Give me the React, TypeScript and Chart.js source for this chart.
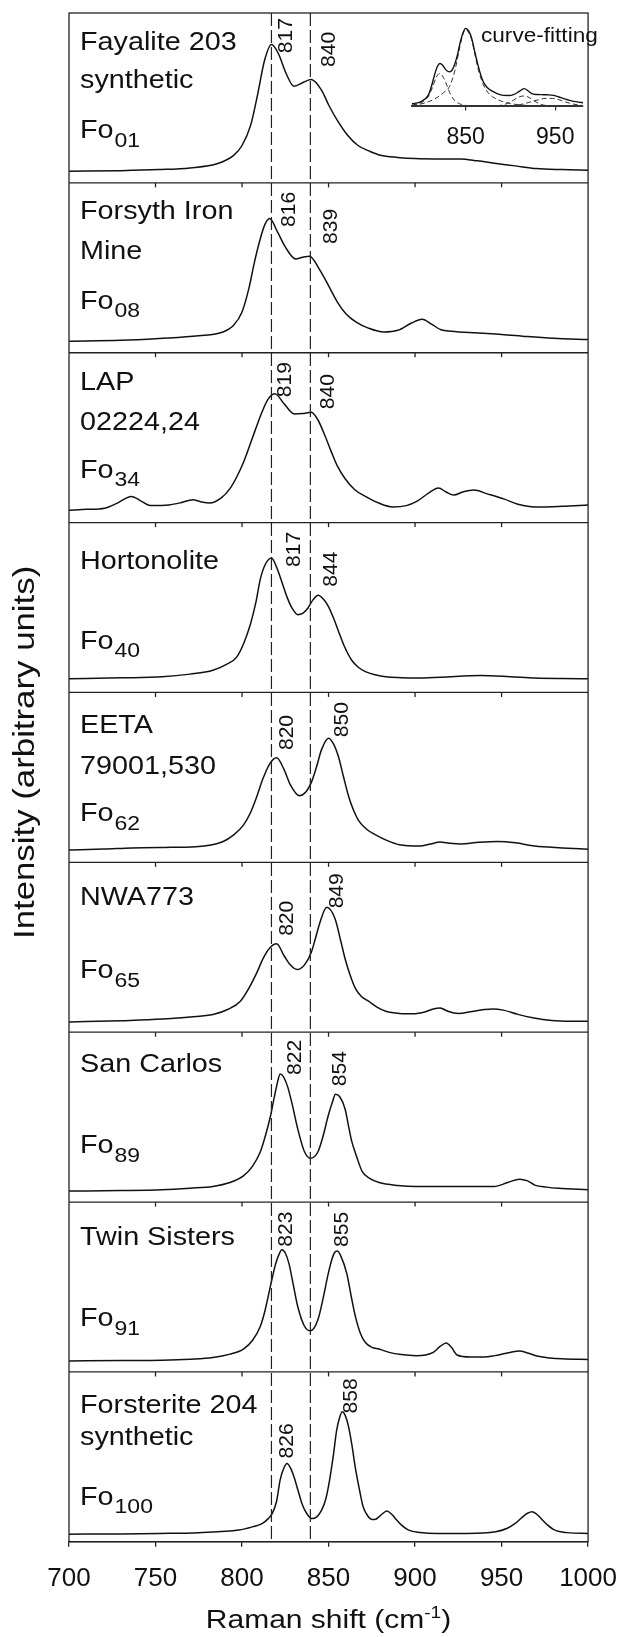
import { useEffect, useRef } from "react";
import { Chart, registerables } from "chart.js";

Chart.register(...registerables);

const FONT = '"Liberation Sans", Arial, Helvetica, sans-serif';
const INK = "#111";
const FRAME = "#222";

// Raman shift axis (cm-1)
const SHIFT_MIN = 700;
const SHIFT_MAX = 1000;
const SHIFT_TICKS = [700, 750, 800, 850, 900, 950, 1000];
// Dashed reference positions drawn through every panel
const GUIDE_SHIFTS = [817, 839.5];

// Panels, top to bottom
const SAMPLE_LINES = [
  ["Fayalite 203", "synthetic"],
  ["Forsyth Iron", "Mine"],
  ["LAP", "02224,24"],
  ["Hortonolite"],
  ["EETA", "79001,530"],
  ["NWA773"],
  ["San Carlos"],
  ["Twin Sisters"],
  ["Forsterite 204", "synthetic"],
];
const FO_CONTENT = ["01", "08", "34", "40", "62", "65", "89", "91", "100"];
const PEAK_SHIFTS = [
  [817, 840],
  [816, 839],
  [819, 840],
  [817, 844],
  [820, 850],
  [820, 849],
  [822, 854],
  [823, 855],
  [826, 858],
];

// Spectra: Raman shift and intensity (0–100 within each panel)
const FAYALITE_SHIFT = [700, 730, 752, 770, 786, 795, 800, 805, 809, 813, 817, 821, 825.5, 830, 835.8, 840, 846, 850, 855, 861, 867, 874, 880, 890, 900, 912, 926, 936, 947, 958, 970, 985, 1000];
const FAYALITE_INT = [6.9, 7.2, 7.8, 8.8, 11.4, 16, 22, 34, 52, 72, 81.4, 76.1, 64.4, 56.9, 59.4, 60.8, 54.5, 46, 36.9, 28, 22, 18.5, 16.3, 15, 14.3, 14.1, 14.1, 13, 11.4, 10, 8.4, 7.8, 7.5];

const FORSYTH_SHIFT = [700, 730, 752, 775, 789, 795, 800, 804, 807, 810, 813, 816, 820.5, 825, 831, 835, 839, 845, 850, 855, 860, 866, 873, 882, 890, 898, 904, 910, 915, 921, 935, 950, 965, 980, 1000];
const FORSYTH_INT = [6.8, 7.3, 8.4, 10, 12.2, 16, 24, 38, 52.5, 65, 75, 79, 71.1, 62.3, 55.2, 56.2, 56.8, 48.6, 39.5, 30, 23, 18, 14.5, 12.2, 13.2, 17.5, 19.7, 16.5, 13.5, 12.7, 11.7, 10.8, 9.5, 8.5, 7.8];

const LAP_SHIFT = [700, 710, 720.6, 728, 736, 742, 747, 757.8, 765, 771.5, 776, 781.3, 788, 793, 797, 800.8, 805, 808.7, 811.5, 815, 819, 824.3, 830.2, 835, 840, 843.9, 848, 851.8, 855, 859.6, 865, 871.3, 879, 887, 895, 900.7, 908, 913.5, 918, 922.3, 928, 934, 941.8, 951.6, 959.4, 966, 973.2, 985, 1000];
const LAP_INT = [7.3, 7.8, 8.5, 11.5, 15.4, 12.5, 10, 10.4, 11.8, 13.5, 12.3, 11.5, 14.5, 20, 27, 35.4, 47, 57.5, 65, 72.5, 75.8, 70, 64, 64.2, 65, 60.4, 51, 41.2, 33.5, 25.8, 19.5, 15.4, 11.5, 9.2, 10, 12.3, 17.5, 20.4, 18, 16.2, 18.2, 19.2, 16.9, 13.8, 10.8, 9.5, 9.2, 9.6, 10.4];

const HORTONOLITE_SHIFT = [700, 730, 753.8, 770, 783.2, 791, 796.9, 801, 804.8, 808, 810.6, 813.5, 817, 820.4, 823.5, 826.3, 829, 832.2, 835, 838, 841, 844, 847, 849.8, 853, 855.7, 859, 863.5, 867, 871.3, 877, 883.1, 892, 900.7, 915, 937.9, 955, 969.2, 985, 1000];
const HORTONOLITE_INT = [8.1, 8.6, 9.2, 10.8, 13.1, 16.5, 20.8, 29, 40, 53, 66.9, 75.5, 79.2, 72.7, 63.5, 55.4, 49.5, 45.8, 46.5, 49.6, 54.5, 57.3, 55, 50.8, 43.5, 36.2, 27.5, 18.8, 15, 12.3, 10.4, 9.2, 8.7, 8.5, 9, 10, 9.3, 8.5, 8.2, 8.1];

const EETA_SHIFT = [700, 720, 736.2, 755, 773.4, 789.1, 795, 800.8, 805, 808.7, 812, 816, 820, 824.3, 828, 833.1, 837, 840, 843, 845.9, 850, 853, 855.7, 858.5, 861.5, 864.5, 867.4, 872, 877.2, 884, 890.9, 902.7, 909, 914.4, 920, 926.2, 937, 947.7, 958, 969.2, 985, 1000];
const EETA_INT = [7.3, 7.8, 8.5, 8.8, 9.2, 12.3, 16, 21.9, 29.5, 39.2, 49, 58, 61.5, 54.6, 45.5, 39.2, 41.5, 46.9, 56, 66.2, 73.1, 69.5, 62.3, 51, 39.2, 30.5, 24.6, 19.5, 16.2, 12.8, 10.4, 9.6, 10.8, 11.9, 11.2, 10.8, 11.8, 12.3, 11.5, 9.6, 8.5, 7.7];

const NWA773_SHIFT = [700, 730, 753.8, 770, 783.2, 792, 798.9, 804, 808.7, 812, 816, 820, 824.3, 828, 831.8, 836, 840, 842.5, 844.9, 849, 853.7, 857, 859.6, 862.5, 865.5, 869, 873.3, 878, 883.1, 891, 898.7, 906, 910, 914.5, 919, 925, 933, 940, 945, 951, 959.4, 968, 979, 990, 1000];
const NWA773_INT = [6, 6.8, 7.7, 9, 10.4, 13.5, 18.1, 26, 35.4, 43, 49.5, 52, 45, 39.5, 36.9, 39.5, 46.9, 55.5, 64.2, 73.5, 66.9, 54, 43.1, 33.5, 25.8, 21, 18.1, 14.8, 12.3, 11, 10.8, 12, 13.5, 14.3, 12.3, 11, 12.2, 13.3, 13.7, 13, 10.5, 8.5, 6.9, 6.5, 6.5];

const SAN_CARLOS_SHIFT = [700, 730, 753.8, 770, 783.2, 793, 800.8, 806, 810.6, 813.5, 816.5, 818.5, 820.4, 822, 823.8, 826.3, 829, 832.2, 836.1, 839.6, 843.9, 847, 849.8, 852.3, 854, 856.5, 859.6, 861.5, 863.5, 866.5, 869.4, 874, 879.2, 890, 900.7, 920.2, 935, 945.7, 953.6, 960.4, 965, 969.2, 976, 982.9, 1000];
const SAN_CARLOS_INT = [6.5, 6.8, 7.3, 8.2, 9.2, 11.5, 15.4, 21, 29.6, 39, 50.8, 61, 70, 75.4, 74, 68.1, 57.5, 43.1, 29.6, 25.8, 29.6, 39.5, 50.8, 59, 63.5, 62, 54.6, 45, 35.4, 26, 18.1, 13.8, 11.5, 9.8, 9.2, 9.2, 9.2, 9.2, 11.5, 13.5, 12.5, 10, 8.8, 8.1, 7.3];

const TWIN_SISTERS_SHIFT = [700, 730, 753.8, 770, 783.2, 793, 800.8, 806, 810.6, 813, 815.5, 817.5, 819.4, 821.5, 823, 825, 827.2, 829.5, 832.2, 836.1, 839.6, 843.9, 847, 849.8, 852, 853.5, 855, 857, 860.6, 863, 865.5, 868.5, 871.3, 875, 879.2, 885, 892, 900.7, 906, 910.5, 914.5, 918, 921, 924.2, 932, 939.9, 946, 951.6, 956, 960.4, 965, 971.2, 978, 984.9, 1000];
const TWIN_SISTERS_INT = [6.5, 6.7, 6.9, 7.5, 8.5, 10.5, 13.5, 18.5, 26.9, 35, 46.2, 55.5, 63.5, 69.5, 71.9, 70, 63.5, 52, 38.5, 26.9, 24.2, 30.8, 44, 57.7, 66.5, 70.3, 71.2, 68.5, 57.7, 45, 32.7, 22.5, 17.3, 14.5, 13.5, 11.5, 10.2, 9.6, 10, 11.5, 15, 17, 14.5, 10, 8.8, 8.8, 9.6, 10.8, 11.8, 12.3, 11.2, 9.2, 8.2, 7.7, 7.3];

const FORSTERITE_SHIFT = [700, 730, 752.4, 775, 798.1, 806, 811.8, 815, 817.5, 820, 822, 824, 826, 828, 830, 832.3, 834.6, 837.5, 840.3, 843, 846, 848.5, 850.6, 852.8, 854.7, 856.5, 858, 859.8, 861.6, 863.5, 865.4, 867.8, 870, 872.5, 875.3, 877.3, 879.1, 881.5, 883.7, 886.5, 889.4, 892.5, 896.3, 903, 912.2, 930, 946.5, 953, 957.9, 962, 965, 967.7, 970, 972.8, 976.5, 980.8, 988, 1000];
const FORSTERITE_INT = [4.5, 4.6, 4.9, 5.4, 6.9, 8.8, 10.8, 13.5, 16.7, 24, 36.3, 43, 46.1, 43.5, 38.3, 30.5, 22.6, 16.5, 13.7, 14.5, 18.6, 25.5, 36.3, 51, 65.7, 73.5, 76.5, 74, 67.7, 57, 44.1, 31, 20.6, 15.5, 13.1, 13.3, 14.7, 16.8, 18.2, 16.2, 12.8, 9.5, 6.9, 5.5, 4.9, 4.9, 5.9, 7.8, 10.8, 14.5, 16.8, 17.7, 16.5, 13.7, 10, 6.9, 5.4, 4.9];

const SPECTRA = [
  { shift: FAYALITE_SHIFT, intensity: FAYALITE_INT },
  { shift: FORSYTH_SHIFT, intensity: FORSYTH_INT },
  { shift: LAP_SHIFT, intensity: LAP_INT },
  { shift: HORTONOLITE_SHIFT, intensity: HORTONOLITE_INT },
  { shift: EETA_SHIFT, intensity: EETA_INT },
  { shift: NWA773_SHIFT, intensity: NWA773_INT },
  { shift: SAN_CARLOS_SHIFT, intensity: SAN_CARLOS_INT },
  { shift: TWIN_SISTERS_SHIFT, intensity: TWIN_SISTERS_INT },
  { shift: FORSTERITE_SHIFT, intensity: FORSTERITE_INT },
];

// Curve-fitting inset: measured envelope and fitted components
const FIT_SHIFT_MIN = 790;
const FIT_SHIFT_MAX = 981;
const FIT_TICKS = [850, 950];
const FIT_SUM_SHIFT = [789.5, 798.8, 808.1, 812, 815.6, 818.5, 821.2, 824, 826.8, 829.5, 832.4, 835.3, 838, 841, 843.6, 846.8, 850, 853.3, 856.7, 859.5, 862.3, 866, 869.7, 874, 879.1, 885, 892.1, 898, 903.3, 909, 915.3, 919.5, 923.9, 929, 935.1, 941, 948.1, 953.5, 959.3, 965, 970.5, 976, 981];
const FIT_SUM_INT = [3.3, 5.4, 13.7, 26, 40.8, 50, 53.3, 51.5, 47, 44, 42.9, 46, 53.3, 65, 78.3, 91, 97, 94, 84.6, 71, 57.5, 42, 30.4, 23.5, 19.2, 16, 13.7, 13.5, 14.6, 18, 22.1, 19.5, 15.8, 14.8, 14.6, 14.4, 13.7, 12, 9.6, 7.8, 6.3, 5.3, 4.6];
const FIT_A_SHIFT = [790, 800, 808, 813, 817, 821, 825, 829, 833, 838, 845, 855];
const FIT_A_INT = [1.5, 4.5, 12, 24, 36, 41, 36, 26, 15, 7, 2.5, 0.5];
const FIT_B_SHIFT = [790, 800, 810, 818, 825, 832, 838, 843.6, 847, 850, 853, 856.7, 860, 864, 869.7, 875, 880, 890, 900, 915, 935];
const FIT_B_INT = [1.5, 3, 6.5, 11, 17, 25, 45, 75, 90, 96, 92, 83, 66, 46, 27, 17, 12, 6.5, 3.5, 1.5, 0.5];
const FIT_C_SHIFT = [885, 895, 903, 909, 915.3, 921, 927, 934, 944];
const FIT_C_INT = [0.5, 3, 7.5, 11.5, 13, 11, 6.5, 2.5, 0.5];
const FIT_D_SHIFT = [900, 912, 922, 932, 940, 947, 955, 963, 972, 981];
const FIT_D_INT = [0.5, 2.5, 5.5, 8.5, 10, 10, 8, 5, 2.5, 1];
const FIT_COMPONENTS = [
  { shift: FIT_A_SHIFT, intensity: FIT_A_INT },
  { shift: FIT_B_SHIFT, intensity: FIT_B_INT },
  { shift: FIT_C_SHIFT, intensity: FIT_C_INT },
  { shift: FIT_D_SHIFT, intensity: FIT_D_INT },
];

// Text placement inside each panel (px below the panel top)
const NAME_BASELINES = [
  [37, 75, 125],
  [36, 76, 126],
  [37, 77, 125],
  [46, 126],
  [41, 82, 129],
  [43, 116],
  [40, 121],
  [43, 124],
  [41, 73, 133],
];
// Peak label offsets (px) from the labelled peak point: [dx, dy]
const PEAK_LABEL_OFFSETS = [
  [[15.5, 8.7], [18.4, -12.6]],
  [[19.8, 8.4], [22, -12.3]],
  [[10.5, 3.3], [17.3, -3]],
  [[22.7, 9], [13, -8.5]],
  [[11.2, -7.8], [14, -1]],
  [[10.7, -8], [10.8, 1]],
  [[16, 1], [5.5, -8]],
  [[5, -3], [5.4, -4]],
  [[1, -5], [9, 1.6]],
];

const toPoints = (xs: number[], ys: number[]) => xs.map((x, k) => ({ x, y: ys[k] }));

function drawText(
  ctx: CanvasRenderingContext2D,
  text: string,
  x: number,
  y: number,
  size: number,
  stretch = 1,
  align: CanvasTextAlign = "left",
  baseline: CanvasTextBaseline = "alphabetic",
  angle = 0
) {
  ctx.save();
  ctx.translate(x, y);
  if (angle) ctx.rotate(angle);
  ctx.scale(stretch, 1);
  ctx.font = `${size}px ${FONT}`;
  ctx.fillStyle = INK;
  ctx.textAlign = align;
  ctx.textBaseline = baseline;
  ctx.fillText(text, 0, 0);
  ctx.restore();
}

function textWidth(ctx: CanvasRenderingContext2D, text: string, size: number, stretch = 1) {
  ctx.save();
  ctx.font = `${size}px ${FONT}`;
  const w = ctx.measureText(text).width * stretch;
  ctx.restore();
  return w;
}

const NAME_SIZE = 25;
const NAME_STRETCH = 1.15;

const panelPlugin = {
  id: "olivinePanels",
  afterDatasetsDraw(chart: any) {
    const { ctx, chartArea } = chart;
    const xs = chart.scales.x;
    const panels = SPECTRA.map((_, i) => chart.scales[`y${i}`]);

    ctx.save();
    // dashed reference lines
    ctx.strokeStyle = FRAME;
    ctx.lineWidth = 1.2;
    ctx.setLineDash([13, 4]);
    GUIDE_SHIFTS.forEach((s) => {
      const px = xs.getPixelForValue(s);
      ctx.beginPath();
      ctx.moveTo(px, chartArea.top);
      ctx.lineTo(px, chartArea.bottom);
      ctx.stroke();
    });
    ctx.setLineDash([]);

    // frame, panel separators and inward ticks
    ctx.lineWidth = 1.3;
    ctx.strokeRect(chartArea.left, chartArea.top, chartArea.right - chartArea.left, chartArea.bottom - chartArea.top);
    panels.forEach((sc: any, i: number) => {
      if (i === 0) return;
      ctx.beginPath();
      ctx.moveTo(chartArea.left, sc.top);
      ctx.lineTo(chartArea.right, sc.top);
      ctx.stroke();
      SHIFT_TICKS.slice(1, -1).forEach((v) => {
        const px = xs.getPixelForValue(v);
        ctx.beginPath();
        ctx.moveTo(px, sc.top);
        ctx.lineTo(px, sc.top + 4.5);
        ctx.stroke();
      });
    });

    // sample names and Fo numbers
    panels.forEach((sc: any, i: number) => {
      const lines = SAMPLE_LINES[i];
      const base = NAME_BASELINES[i];
      const left = chartArea.left + 11;
      lines.forEach((t, k) => drawText(ctx, t, left, sc.top + base[k], NAME_SIZE, NAME_STRETCH));
      const foY = sc.top + base[lines.length];
      drawText(ctx, "Fo", left, foY, NAME_SIZE, NAME_STRETCH);
      const w = textWidth(ctx, "Fo", NAME_SIZE, NAME_STRETCH);
      drawText(ctx, FO_CONTENT[i], left + w + 1, foY + 8.5, 20, NAME_STRETCH);
    });

    // peak position labels
    panels.forEach((sc: any, i: number) => {
      const spec = SPECTRA[i];
      PEAK_SHIFTS[i].forEach((shift, j) => {
        const k = spec.shift.indexOf(shift);
        const value = k >= 0 ? spec.intensity[k] : 0;
        const [dx, dy] = PEAK_LABEL_OFFSETS[i][j];
        const px = xs.getPixelForValue(shift) + dx;
        const py = sc.getPixelForValue(value) + dy;
        drawText(ctx, String(shift), px, py, 19.5, 1.08, "left", "middle", -Math.PI / 2);
      });
    });

    // axis titles
    const yMid = (chartArea.top + chartArea.bottom) / 2 - 25;
    drawText(ctx, "Intensity (arbitrary units)", 26, yMid, 29, 1.2, "center", "middle", -Math.PI / 2);

    const main = "Raman shift (cm";
    const sup = "-1";
    const close = ")";
    const tSize = 25;
    const tStretch = 1.2;
    const w1 = textWidth(ctx, main, tSize, tStretch);
    const w2 = textWidth(ctx, sup, 16, tStretch);
    const w3 = textWidth(ctx, close, tSize, tStretch);
    const cx = (chartArea.left + chartArea.right) / 2;
    let tx = cx - (w1 + w2 + w3) / 2;
    const ty = 1628;
    drawText(ctx, main, tx, ty, tSize, tStretch);
    tx += w1;
    drawText(ctx, sup, tx, ty - 10, 16, tStretch);
    tx += w2;
    drawText(ctx, close, tx, ty, tSize, tStretch);
    ctx.restore();
  },
};

const insetPlugin = {
  id: "fitLabel",
  afterDraw(chart: any) {
    const { ctx } = chart;
    drawText(ctx, "curve-fitting", 81, 42, 20, 1.13);
  },
};

export default function App() {
  const mainRef = useRef<HTMLCanvasElement | null>(null);
  const insetRef = useRef<HTMLCanvasElement | null>(null);

  useEffect(() => {
    Chart.defaults.font.family = FONT;
    const yScales: Record<string, any> = {};
    SPECTRA.forEach((_, i) => {
      yScales[`y${i}`] = {
        type: "linear",
        position: "left",
        stack: "panels",
        stackWeight: 1,
        weight: SPECTRA.length - i,
        min: 0,
        max: 100,
        display: false,
      };
    });

    const main = new Chart(mainRef.current as HTMLCanvasElement, {
      type: "line",
      data: {
        datasets: SPECTRA.map((s, i) => ({
          data: toPoints(s.shift, s.intensity),
          yAxisID: `y${i}`,
          borderColor: INK,
          borderWidth: 1.5,
          pointRadius: 0,
          fill: false,
          cubicInterpolationMode: "monotone" as const,
        })),
      },
      options: {
        responsive: false,
        animation: false,
        devicePixelRatio: 1,
        parsing: false,
        layout: { padding: { left: 69, right: 32, top: 13, bottom: 27 } },
        plugins: { legend: { display: false }, tooltip: { enabled: false } },
        scales: {
          x: {
            type: "linear",
            position: "bottom",
            min: SHIFT_MIN,
            max: SHIFT_MAX,
            afterBuildTicks: (axis: any) => {
              axis.ticks = SHIFT_TICKS.map((value) => ({ value }));
            },
            ticks: {
              font: { family: FONT, size: 26 },
              color: INK,
              padding: 16,
              maxRotation: 0,
              autoSkip: false,
              callback: (value: number) => String(value),
            },
            grid: { drawOnChartArea: false, drawTicks: true, tickLength: 5, color: FRAME, lineWidth: 1.3 },
            border: { display: true, color: FRAME, width: 1.3 },
          },
          ...yScales,
        },
      } as any,
      plugins: [panelPlugin],
    });

    const inset = new Chart(insetRef.current as HTMLCanvasElement, {
      type: "line",
      data: {
        datasets: [
          {
            data: toPoints(FIT_SUM_SHIFT, FIT_SUM_INT),
            borderColor: INK,
            borderWidth: 1.4,
            pointRadius: 0,
            cubicInterpolationMode: "monotone" as const,
          },
          ...FIT_COMPONENTS.map((c) => ({
            data: toPoints(c.shift, c.intensity),
            borderColor: "#333",
            borderWidth: 1,
            borderDash: [5, 3],
            pointRadius: 0,
            cubicInterpolationMode: "monotone" as const,
          })),
        ],
      },
      options: {
        responsive: false,
        animation: false,
        devicePixelRatio: 1,
        parsing: false,
        layout: { padding: { left: 12, right: 17, top: 26, bottom: 16 } },
        plugins: { legend: { display: false }, tooltip: { enabled: false } },
        scales: {
          x: {
            type: "linear",
            min: FIT_SHIFT_MIN,
            max: FIT_SHIFT_MAX,
            afterBuildTicks: (axis: any) => {
              axis.ticks = FIT_TICKS.map((value) => ({ value }));
            },
            ticks: {
              font: { family: FONT, size: 23 },
              color: INK,
              padding: 13,
              maxRotation: 0,
              autoSkip: false,
              callback: (value: number) => String(value),
            },
            grid: { drawOnChartArea: false, tickLength: 4, color: "#333", lineWidth: 1.2 },
            border: { display: true, color: "#333", width: 2 },
          },
          y: { type: "linear", min: 0, max: 100, display: false },
        },
      } as any,
      plugins: [insetPlugin],
    });

    return () => {
      main.destroy();
      inset.destroy();
    };
  }, []);

  return (
    <div style={{ position: "absolute", left: 0, top: 0, width: 633, height: 1637, background: "#fff" }}>
      <canvas ref={mainRef} width={633} height={1637} style={{ position: "absolute", left: 0, top: 0 }} />
      <canvas ref={insetRef} width={200} height={180} style={{ position: "absolute", left: 400, top: 0 }} />
    </div>
  );
}
